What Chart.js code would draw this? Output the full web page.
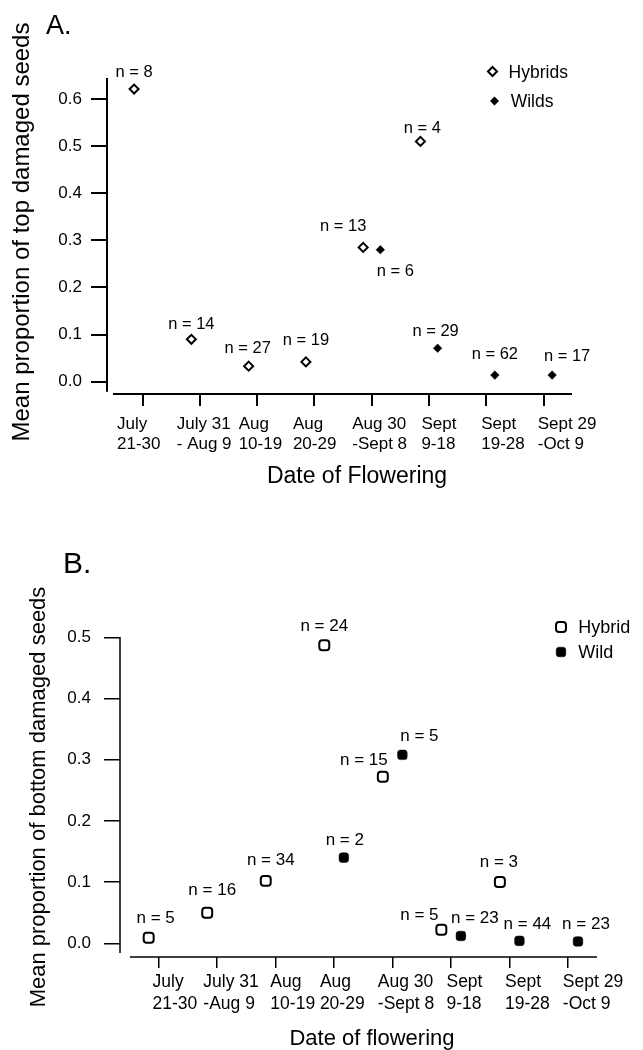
<!DOCTYPE html>
<html><head><meta charset="utf-8">
<script src="https://cdn.jsdelivr.net/npm/chart.js@4.4.0/dist/chart.umd.min.js"></script>
<style>
html,body{margin:0;padding:0;background:#fff;}
#wrap{position:relative;width:643px;height:1050px;overflow:hidden;background:#fff;}
canvas{position:absolute;left:0;}
#cA{top:0;}
#cB{top:520px;}
</style></head><body>
<div id="wrap">
<canvas id="cA" width="643" height="520"></canvas>
<canvas id="cB" width="643" height="530"></canvas>
</div>
<script>
// ---------------- DATA ----------------
const categoriesA = [['July','21-30'],['July 31','- Aug 9'],['Aug','10-19'],['Aug','20-29'],['Aug 30','-Sept 8'],['Sept','9-18'],['Sept','19-28'],['Sept 29','-Oct 9']];
const categoriesB = [['July','21-30'],['July 31','-Aug 9'],['Aug','10-19'],['Aug','20-29'],['Aug 30','-Sept 8'],['Sept','9-18'],['Sept','19-28'],['Sept 29','-Oct 9']];
const yTicksA = [0.0, 0.1, 0.2, 0.3, 0.4, 0.5, 0.6];
const yTicksB = [0.0, 0.1, 0.2, 0.3, 0.4, 0.5];

// Panel A: mean proportion of top damaged seeds
const hybridsA  = [0.621, 0.090, 0.033, 0.042, 0.285, 0.510, null, null];
const wildsA    = [null, null, null, null, 0.280, 0.071, 0.014, 0.014];
const hybridsNA = [8, 14, 27, 19, 13, 4, null, null];
const wildsNA   = [null, null, null, null, 6, 29, 62, 17];

// Panel B: mean proportion of bottom damaged seeds
const hybridB   = [0.009, 0.050, 0.102, 0.487, 0.272, 0.022, 0.100, null];
const wildB     = [null, null, null, 0.140, 0.308, 0.012, 0.004, 0.003];
const hybridNB  = [5, 16, 34, 24, 15, 5, 3, null];
const wildNB    = [null, null, null, 2, 5, 23, 44, 23];

// ---------------- LAYOUT (pixel offsets for annotations) ----------------
const nOffHybA = [[0,-18],[0,-16],[-1,-19],[0,-23],[-20,-22],[2,-14]];
const nOffWildA = [[15,20],[-2,-18],[0,-22],[15,-20]];
const nOffHybB = [[7,-21],[5,-24],[5,-22],[0,-20],[-19,-18],[-22,-16],[-1,-21]];
const nOffWildB = [[1,-19],[17,-20],[14,-19],[8,-18],[8,-19]];
const tickShiftA = [-25.7,-23.2,-18.6,-21.6,-19.5,-7.6,-5,-5.8];
const tickShiftB = [-5.7,-13.5,-5,-14,-14.6,-4.5,-4.5,-5.2];

const FONT = '"Liberation Sans", Arial, Helvetica, sans-serif';

function txt(ctx, str, x, y, size, align, hscale, rot) {
  ctx.save();
  ctx.font = size + 'px ' + FONT;
  ctx.fillStyle = '#000';
  ctx.textAlign = align;
  ctx.textBaseline = 'alphabetic';
  ctx.translate(x, y);
  if (rot) ctx.rotate(rot);
  if (hscale && hscale !== 1) ctx.scale(hscale, 1);
  ctx.fillText(str, 0, 0.358 * size);
  ctx.restore();
}

function marker(ctx, style, r, x, y, filled, bw) {
  ctx.save();
  ctx.fillStyle = filled ? '#000' : '#fff';
  ctx.strokeStyle = '#000';
  ctx.lineWidth = bw;
  Chart.helpers.drawPoint(ctx, {pointStyle: style, radius: r, rotation: 0, borderWidth: bw}, x, y);
  ctx.restore();
}

function pts(vals, off) {
  const out = [];
  vals.forEach((v, i) => { if (v !== null) out.push({x: i + off, y: v}); });
  return out;
}
function ns(arr) { return arr.filter(v => v !== null); }

function makeChart(id, c) {
  const annot = {
    id: 'annot' + id,
    afterDraw(chart) {
      const ctx = chart.ctx, xs = chart.scales.x, ys = chart.scales.y, ca = chart.chartArea;
      // axis lines
      ctx.save();
      ctx.strokeStyle = '#000';
      ctx.lineWidth = c.axisW;
      ctx.beginPath();
      ctx.moveTo(ca.left, ca.top);
      ctx.lineTo(ca.left, ca.bottom - c.yGap);
      ctx.moveTo(ca.left + c.xGap, ca.bottom);
      ctx.lineTo(ca.right, ca.bottom);
      ctx.stroke();
      ctx.restore();
      // category labels
      xs.ticks.forEach((t, i) => {
        const px = xs.getPixelForValue(t.value) + c.tickShift[i];
        const lines = c.categories[i];
        lines.forEach((ln, k) => {
          txt(ctx, ln, px, ca.bottom + c.tickLineY[k], c.tickSize, 'left', c.tickH);
        });
      });
      // n labels
      [[0, c.nH, c.offH], [1, c.nW, c.offW]].forEach(([d, nArr, offs]) => {
        const meta = chart.getDatasetMeta(d);
        meta.data.forEach((el, j) => {
          txt(ctx, 'n = ' + nArr[j], el.x + offs[j][0], el.y + offs[j][1], c.nSize, 'center', 1);
        });
      });
      // titles
      txt(ctx, c.xTitle, c.xTitlePos[0], c.xTitlePos[1], c.xTitleSize, 'center', 1);
      txt(ctx, c.yTitle, c.yTitlePos[0], c.yTitlePos[1], c.yTitleSize, 'center', 1, -Math.PI / 2);
      txt(ctx, c.panel, c.panelPos[0], c.panelPos[1], c.panelSize, 'left', 1);
      // legend
      c.legend.forEach(L => {
        marker(ctx, L.style, L.r, L.mx, L.my, L.filled, L.bw);
        txt(ctx, L.text, L.tx, L.my, c.legendSize, 'left', 1);
      });
    }
  };
  return new Chart(document.getElementById(id), {
    type: 'scatter',
    data: {
      datasets: [
        {label: c.legend[0].text, data: pts(c.hyb, c.offHx), pointStyle: c.style, pointRadius: c.rH,
         pointBorderWidth: c.bwH, pointBorderColor: '#000', pointBackgroundColor: '#fff'},
        {label: c.legend[1].text, data: pts(c.wild, c.offWx), pointStyle: c.style, pointRadius: c.rW,
         pointBorderWidth: c.bwW, pointBorderColor: '#000', pointBackgroundColor: '#000'}
      ]
    },
    options: {
      responsive: false, animation: false, devicePixelRatio: 1,
      events: [],
      layout: {autoPadding: false, padding: c.padding},
      plugins: {legend: {display: false}, tooltip: {enabled: false}, title: {display: false}},
      scales: {
        x: {
          type: 'linear', position: 'bottom', min: c.xMin, max: c.xMax,
          afterBuildTicks: s => { s.ticks = c.categories.map((_, i) => ({value: i})); },
          afterFit: s => { s.height = c.xH; },
          ticks: {display: false},
          grid: {display: true, drawOnChartArea: false, drawTicks: true, tickLength: c.xTickLen, color: '#000', lineWidth: c.axisW},
          border: {display: false}
        },
        y: {
          type: 'linear', position: 'left', min: c.yMin, max: c.yMax,
          afterBuildTicks: s => { s.ticks = c.yTicks.map(v => ({value: v})); },
          afterFit: s => { s.width = c.yW; },
          ticks: {display: true, color: '#000', padding: c.yPad, font: {family: FONT, size: c.yTickSize},
                  callback: v => Number(v).toFixed(1)},
          grid: {display: true, drawOnChartArea: false, drawTicks: true, tickLength: c.yTickLen, color: '#000', lineWidth: c.axisW},
          border: {display: false}
        }
      }
    },
    plugins: [annot]
  });
}

// Panel A
makeChart('cA', {
  categories: categoriesA, yTicks: yTicksA, hyb: hybridsA, wild: wildsA,
  nH: ns(hybridsNA), nW: ns(wildsNA), offH: nOffHybA, offW: nOffWildA,
  offHx: -0.15, offWx: 0.15,
  style: 'rectRot', rH: 4.5, rW: 4.3, bwH: 2, bwW: 0.5,
  padding: {left: 0, top: 78, right: 71, bottom: 0},
  xMin: -0.6235, xMax: 7.497, yMin: -0.0261, yMax: 0.6445,
  xH: 126, yW: 107, xTickLen: 12, yTickLen: 16, yPad: 9, yTickSize: 17, axisW: 2,
  xGap: 6, yGap: 2.3,
  tickShift: tickShiftA, tickLineY: [28.7, 49.3], tickSize: 17, tickH: 1,
  nSize: 16.5,
  xTitle: 'Date of Flowering', xTitlePos: [357, 475], xTitleSize: 23,
  yTitle: 'Mean proportion of top damaged seeds', yTitlePos: [20.5, 232], yTitleSize: 24,
  panel: 'A.', panelPos: [46, 24], panelSize: 27,
  legendSize: 17.5,
  legend: [
    {text: 'Hybrids', style: 'rectRot', r: 4.5, mx: 492.5, my: 71.5, tx: 508.6, filled: false, bw: 2},
    {text: 'Wilds', style: 'rectRot', r: 4.2, mx: 494.5, my: 101, tx: 510.7, filled: true, bw: 0.5}
  ]
});

// Panel B
makeChart('cB', {
  categories: categoriesB, yTicks: yTicksB, hyb: hybridB, wild: wildB,
  nH: ns(hybridNB), nW: ns(wildNB), offH: nOffHybB, offW: nOffWildB,
  offHx: -0.164, offWx: 0.17,
  style: 'rectRounded', rH: 5.8, rW: 5.6, bwH: 2, bwW: 0.5,
  padding: {left: 0, top: 117, right: 46, bottom: 0},
  xMin: -0.654, xMax: 7.495, yMin: -0.0224, yMax: 0.5005,
  xH: 93, yW: 120, xTickLen: 11, yTickLen: 16, yPad: 13, yTickSize: 17, axisW: 1.5,
  xGap: 10, yGap: 4,
  tickShift: tickShiftB, tickLineY: [23.3, 45.6], tickSize: 17.5, tickH: 1,
  nSize: 17,
  xTitle: 'Date of flowering', xTitlePos: [372, 516.7], xTitleSize: 22,
  yTitle: 'Mean proportion of bottom damaged seeds', yTitlePos: [37.5, 277], yTitleSize: 22,
  panel: 'B.', panelPos: [63, 42.5], panelSize: 30,
  legendSize: 18,
  legend: [
    {text: 'Hybrid', style: 'rectRounded', r: 5.8, mx: 561, my: 107, tx: 578.3, filled: false, bw: 2},
    {text: 'Wild', style: 'rectRounded', r: 5.6, mx: 561, my: 132, tx: 578.3, filled: true, bw: 0.5}
  ]
});
</script>
</body></html>
